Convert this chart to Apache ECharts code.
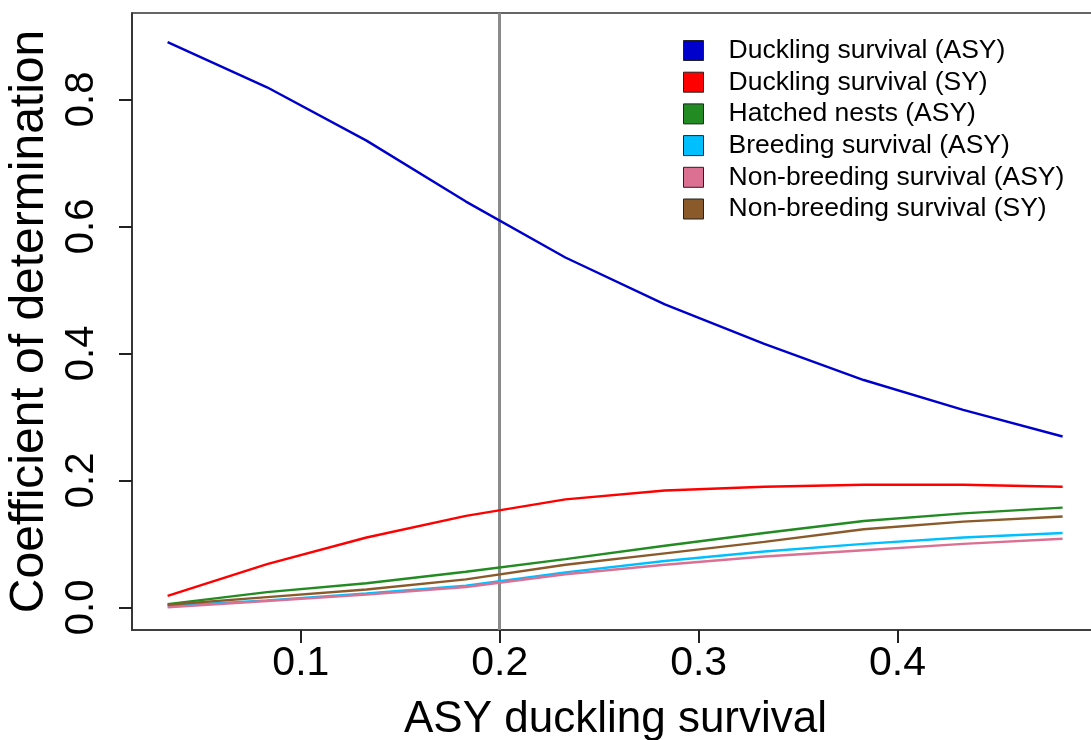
<!DOCTYPE html>
<html>
<head>
<meta charset="utf-8">
<script src="https://cdn.jsdelivr.net/npm/echarts@6/dist/echarts.min.js"></script>
<style>
html,body{margin:0;padding:0;background:#fff;}
#chart{width:1091px;height:740px;}
</style>
</head>
<body>
<div id="chart"></div>
<script>
// x = ASY duckling survival
var xvals = [0.033, 0.083, 0.133, 0.183, 0.233, 0.283, 0.333, 0.383, 0.433, 0.483];

// coefficient of determination, one list per parameter
var ducklingASY   = [0.890, 0.819, 0.735, 0.639, 0.551, 0.477, 0.415, 0.358, 0.311, 0.269];
var ducklingSY    = [0.018, 0.068, 0.110, 0.144, 0.170, 0.184, 0.190, 0.193, 0.193, 0.190];
var hatchedASY    = [0.005, 0.024, 0.038, 0.056, 0.076, 0.097, 0.117, 0.136, 0.148, 0.157];
var breedingASY   = [0.002, 0.011, 0.022, 0.034, 0.055, 0.073, 0.088, 0.100, 0.110, 0.117];
var nonbreedASY   = [0.000, 0.010, 0.020, 0.032, 0.052, 0.067, 0.080, 0.090, 0.100, 0.108];
var nonbreedSY    = [0.004, 0.016, 0.028, 0.044, 0.067, 0.085, 0.103, 0.123, 0.135, 0.143];

var seriesNames = ['Duckling survival (ASY)', 'Duckling survival (SY)', 'Hatched nests (ASY)',
                   'Breeding survival (ASY)', 'Non-breeding survival (ASY)', 'Non-breeding survival (SY)'];
var seriesValues = [ducklingASY, ducklingSY, hatchedASY, breedingASY, nonbreedASY, nonbreedSY];
var seriesColors = ['#0000CD', '#FF0000', '#228B22', '#00BFFF', '#DB7093', '#8B5A2B'];

var xticks = [0.1, 0.2, 0.3, 0.4];
var yticks = [0.0, 0.2, 0.4, 0.6, 0.8];
var refline = 0.2; // grey vertical line

var xmin = 0.0151, xmax = 0.5013;
var ymin = -0.0357, ymax = 0.936;

var fontname = '"Liberation Sans", Arial, sans-serif';

function makepairs(ys)
{
	var out = [];
	for (var i = 0; i < xvals.length; i++) out.push([xvals[i], ys[i]]);
	return out;
}

// axis that only carries the tick marks (no name, no text)
function tickaxis(mn, mx, ticks, pos)
{
	return {
		type: 'value', position: pos, min: mn, max: mx,
		axisLine: {show: true, onZero: false, lineStyle: {color: '#333', width: 1.7}},
		axisTick: {show: true, length: 13, customValues: ticks, lineStyle: {color: '#222', width: 2}},
		axisLabel: {show: true, customValues: ticks, fontSize: 10, color: 'rgba(0,0,0,0)'},
		splitLine: {show: false}
	};
}

var myseries = [];
for (var i = 0; i < seriesNames.length; i++)
{
	var s = {
		name: seriesNames[i],
		type: 'line',
		data: makepairs(seriesValues[i]),
		showSymbol: false,
		smooth: false,
		lineStyle: {color: seriesColors[i], width: 2.4},
		itemStyle: {color: seriesColors[i]},
		z: 3
	};
	if (i == 0) {
		s.markLine = {
			silent: true,
			symbol: 'none',
			label: {show: false},
			lineStyle: {color: '#8a8a8a', width: 3, type: 'solid'},
			data: [{xAxis: refline}],
			z: 2
		};
	}
	myseries.push(s);
}

var myChart = echarts.init(document.getElementById('chart'), null, {renderer: 'canvas'});
var option = {
	animation: false,
	backgroundColor: '#ffffff',
	textStyle: {fontFamily: fontname},
	// box runs past the right edge of the picture, like the original
	grid: {
		left: 132, top: 13, width: 967, height: 617, outerBoundsMode: 'none',
		show: true, borderColor: '#333', borderWidth: 1.7, backgroundColor: 'transparent'
	},
	legend: {
		orient: 'vertical',
		left: 678, top: 32,
		icon: 'rect',
		itemWidth: 20, itemHeight: 20, itemGap: 4.7,
		itemStyle: {borderColor: '#222', borderWidth: 1},
		textStyle: {fontSize: 26.5, color: '#000', fontFamily: fontname, padding: [0, 0, 0, 20]},
		data: seriesNames
	},
	xAxis: [{
		type: 'value',
		position: 'bottom',
		min: xmin, max: xmax,
		name: 'ASY duckling survival',
		nameLocation: 'middle',
		nameGap: 68,
		nameTextStyle: {fontSize: 44, color: '#000', fontFamily: fontname},
		splitLine: {show: false},
		axisLine: {show: false, onZero: false},
		axisTick: {show: false},
		axisLabel: {
			customValues: xticks, fontSize: 41, color: '#000', margin: 13, fontFamily: fontname,
			formatter: function (v) { return v.toFixed(1); }
		}
	}, tickaxis(xmin, xmax, xticks, 'bottom')],
	yAxis: [{
		type: 'value',
		position: 'left',
		min: ymin, max: ymax,
		name: 'Coefficient of determination',
		nameLocation: 'middle',
		nameGap: 75,
		nameTextStyle: {fontSize: 48, color: '#000', fontFamily: fontname},
		splitLine: {show: false},
		axisLine: {show: false, onZero: false},
		axisTick: {show: false},
		axisLabel: {
			customValues: yticks, fontSize: 40, color: '#000', margin: 30, rotate: 90, fontFamily: fontname,
			formatter: function (v) { return v.toFixed(1); }
		}
	}, tickaxis(ymin, ymax, yticks, 'left')],
	series: myseries
};
myChart.setOption(option);
</script>
</body>
</html>
